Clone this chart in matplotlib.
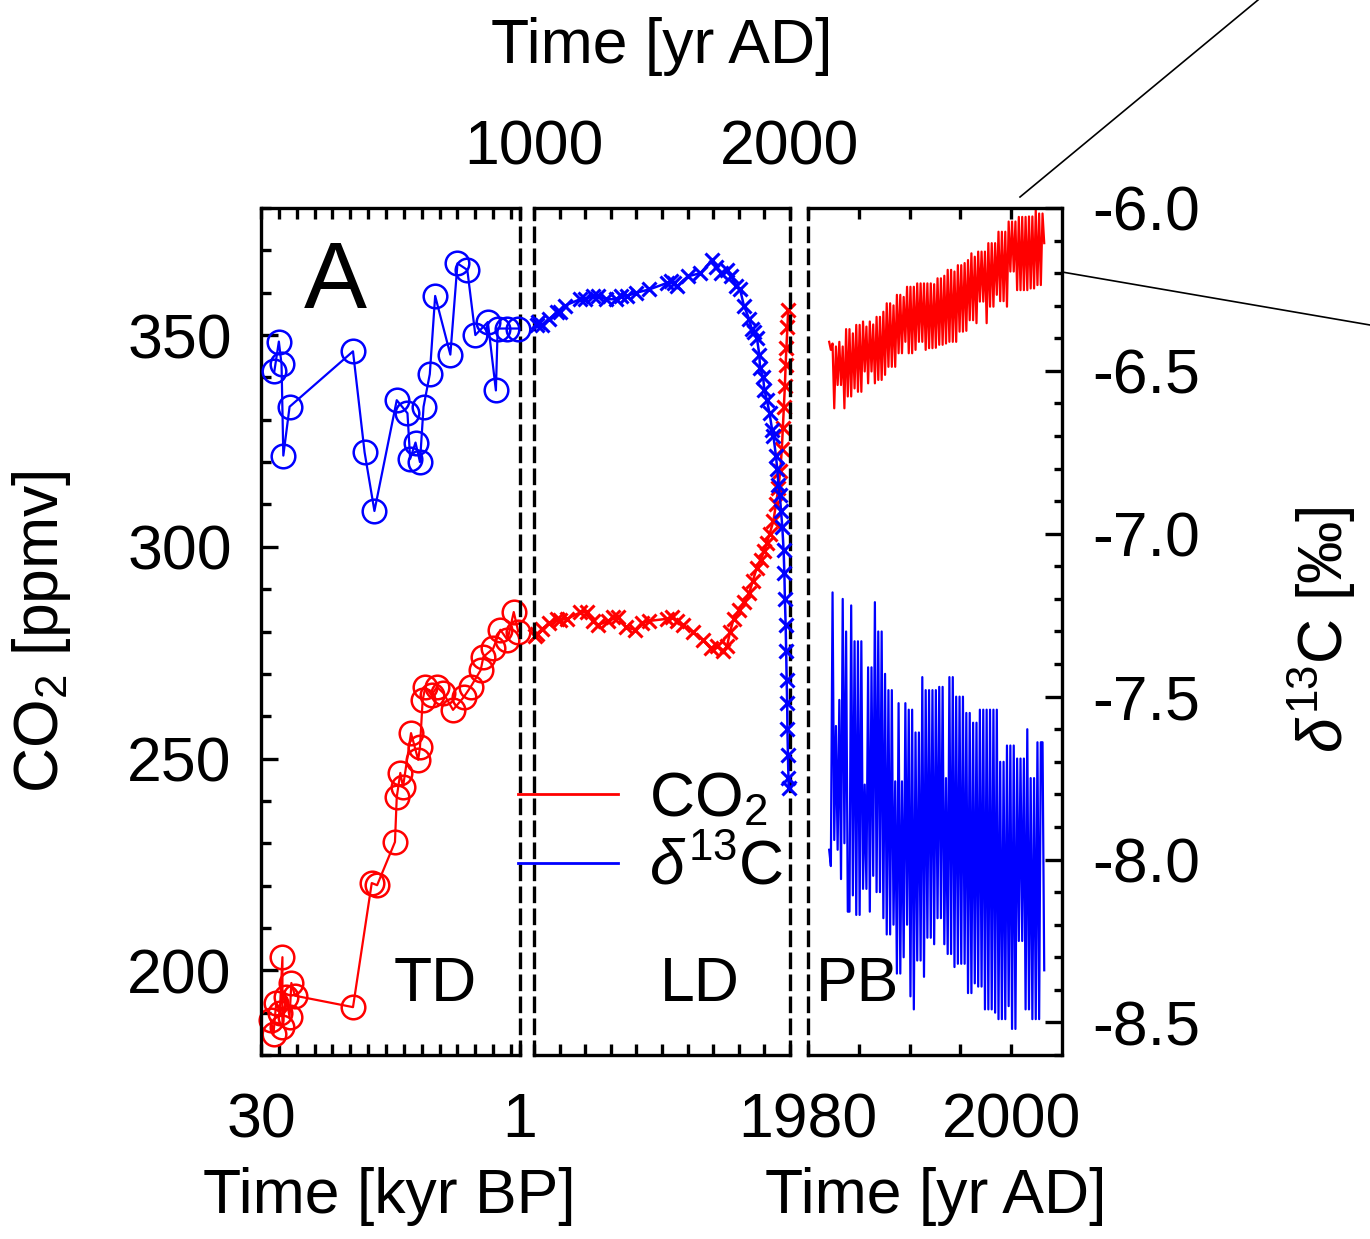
import matplotlib
matplotlib.use('Agg')
import matplotlib.pyplot as plt
from matplotlib.lines import Line2D
from matplotlib.ticker import FixedLocator, MultipleLocator, FormatStrFormatter

plt.rcParams['font.family'] = ['Liberation Sans', 'DejaVu Sans']
plt.rcParams['mathtext.fontset'] = 'custom'
plt.rcParams['mathtext.rm'] = 'Liberation Sans'
plt.rcParams['mathtext.it'] = 'Liberation Sans:italic'
plt.rcParams['axes.unicode_minus'] = False

# --- TD: Taylor Dome, kyr BP ---
td_co2_age = [28.9, 28.6, 28.3, 27.9, 27.6, 27.6, 27.2, 26.8, 26.6, 26.2,
              19.7, 17.6, 17.0, 15.0, 14.8, 14.4, 14.1, 13.2, 12.4, 12.2,
              11.9, 11.6, 10.9, 10.3, 9.6, 8.5, 7.3, 6.5, 5.4, 5.1,
              4.0, 3.2, 2.4, 1.7, 1.2]
td_co2 = [188.3, 185.0, 192.3, 190.0, 203.1, 186.6, 193.7, 189.0, 197.0, 194.0,
          191.3, 220.6, 220.1, 230.3, 240.9, 246.6, 243.3, 256.0, 249.7, 252.7,
          263.8, 266.9, 265.0, 266.9, 265.5, 261.5, 264.5, 267.0, 270.9, 274.0,
          276.0, 280.4, 278.0, 284.6, 280.0]
td_d13c_age = [28.5, 28.0, 27.7, 27.5, 26.8, 19.7, 18.4, 17.3, 14.8, 13.6,
               13.3, 12.7, 12.2, 11.8, 11.1, 10.5, 8.8, 8.0, 6.9, 6.0,
               4.6, 3.7, 3.5, 2.4, 1.2]
td_d13c = [-6.50, -6.41, -6.48, -6.76, -6.61, -6.44, -6.75, -6.93, -6.59, -6.63,
           -6.77, -6.72, -6.78, -6.61, -6.51, -6.27, -6.45, -6.17, -6.19, -6.39,
           -6.35, -6.56, -6.37, -6.37, -6.37]

# --- LD: Law Dome, yr AD ---
ld_co2_year = [1005, 1012, 1030, 1060, 1090, 1102, 1130, 1180, 1207, 1230,
               1250, 1290, 1310, 1328, 1360, 1395, 1420, 1450, 1520, 1539,
               1560, 1582, 1620, 1660, 1690, 1715, 1740, 1754, 1766, 1780,
               1800, 1820, 1840, 1855, 1870, 1885, 1900, 1910, 1920, 1935,
               1945, 1955, 1962, 1968, 1972, 1976, 1980, 1983, 1986, 1990, 1993]
ld_co2 = [279.0, 279.5, 280.5, 282.0, 283.0, 282.7, 283.0, 284.5, 284.6, 282.5,
          281.5, 282.5, 283.5, 283.4, 281.0, 280.4, 282.0, 282.5, 283.0, 283.4,
          282.5, 281.5, 280.0, 278.0, 276.0, 276.5, 275.5, 276.5, 280.0, 283.0,
          285.0, 287.0, 289.0, 292.0, 295.0, 297.0, 299.0, 301.0, 303.0, 306.0,
          310.0, 314.0, 318.0, 323.0, 328.0, 333.0, 338.0, 343.0, 347.0, 352.0, 356.0]
ld_d13c_year = [1010, 1016, 1030, 1060, 1090, 1102, 1120, 1180, 1200, 1230,
                1250, 1280, 1320, 1340, 1363, 1400, 1450, 1520, 1535, 1545,
                1560, 1600, 1650, 1695, 1710, 1730, 1754, 1770, 1790, 1805,
                1820, 1840, 1850, 1860, 1871, 1880, 1883, 1895, 1900, 1910,
                1920, 1930, 1935, 1945, 1950, 1955, 1960, 1965, 1970, 1975,
                1978, 1980, 1983, 1985, 1987, 1989, 1990, 1992, 1994, 1995]
ld_d13c = [-6.36, -6.35, -6.36, -6.34, -6.32, -6.32, -6.30, -6.28, -6.28, -6.27,
           -6.27, -6.28, -6.28, -6.27, -6.27, -6.26, -6.25, -6.23, -6.225, -6.23,
           -6.24, -6.21, -6.20, -6.16, -6.18, -6.20, -6.19, -6.21, -6.24, -6.25,
           -6.30, -6.34, -6.37, -6.38, -6.40, -6.45, -6.49, -6.52, -6.56, -6.59,
           -6.63, -6.68, -6.70, -6.76, -6.80, -6.85, -6.88, -6.93, -6.98, -7.05,
           -7.12, -7.20, -7.28, -7.36, -7.45, -7.52, -7.60, -7.68, -7.75, -7.78]

# --- PB: Point Barrow, yr AD, readings through each year ---
pb_years = list(range(1982, 2004))
pb_co2 = [
    [348.4, 346.5, 348.0, 332.7, 347.3, 338.2],
    [348.4, 338.2, 347.3, 332.7, 351.4, 335.5],
    [351.4, 335.5, 350.4, 337.4, 352.4, 336.6],
    [352.4, 336.6, 353.2, 341.4, 352.0, 338.6],
    [353.2, 341.4, 352.5, 338.6, 354.3, 339.4],
    [354.3, 339.4, 355.5, 340.6, 357.5, 342.5],
    [357.5, 342.5, 357.0, 342.5, 359.5, 345.7],
    [359.5, 345.7, 359.0, 348.4, 361.4, 345.7],
    [361.4, 345.7, 361.4, 346.5, 362.2, 348.4],
    [362.2, 348.4, 362.2, 346.5, 362.2, 346.9],
    [362.2, 346.9, 362.0, 347.0, 363.4, 347.7],
    [363.4, 347.7, 364.0, 348.0, 365.4, 348.4],
    [365.4, 348.4, 365.0, 348.4, 366.5, 350.8],
    [366.5, 350.8, 367.0, 351.0, 367.7, 353.5],
    [369.3, 353.5, 368.5, 352.8, 369.7, 357.9],
    [369.7, 357.9, 369.7, 352.8, 371.7, 356.7],
    [371.7, 356.7, 371.7, 359.5, 374.4, 358.0],
    [374.4, 358.0, 374.4, 356.7, 376.8, 365.0],
    [376.8, 365.0, 376.8, 360.6, 377.9, 360.6],
    [377.9, 360.6, 377.9, 360.6, 378.0, 361.0],
    [378.0, 361.0, 379.5, 361.8, 378.7, 361.8],
    [378.7, 371.7],
]
pb_d13c = [
    [-7.97, -8.02, -7.18, -7.94, -7.59, -7.97],
    [-7.51, -8.06, -7.20, -7.95, -7.30, -8.16],
    [-8.16, -7.22, -8.11, -7.33, -8.17, -7.33],
    [-8.17, -7.33, -8.09, -7.77, -8.09, -7.41],
    [-8.16, -7.41, -8.05, -7.21, -8.10, -7.30],
    [-8.10, -7.30, -8.18, -7.43, -8.23, -7.48],
    [-8.23, -7.48, -8.20, -7.76, -8.35, -7.52],
    [-8.35, -7.76, -8.30, -7.52, -8.20, -7.54],
    [-8.42, -7.54, -8.46, -7.61, -8.31, -7.61],
    [-8.31, -7.44, -8.36, -7.48, -8.24, -7.48],
    [-8.24, -7.48, -8.26, -7.48, -8.18, -7.47],
    [-8.18, -7.47, -8.26, -7.75, -8.29, -7.44],
    [-8.29, -7.44, -8.33, -7.50, -8.32, -7.50],
    [-8.32, -7.50, -8.32, -7.55, -8.41, -7.55],
    [-8.41, -7.58, -8.38, -7.58, -8.39, -7.54],
    [-8.39, -7.54, -8.46, -7.54, -8.46, -7.54],
    [-8.46, -7.54, -8.47, -7.54, -8.49, -7.70],
    [-8.49, -7.70, -8.49, -7.65, -8.45, -7.65],
    [-8.52, -7.65, -8.52, -7.69, -8.25, -7.69],
    [-8.25, -7.69, -8.46, -7.60, -8.46, -7.75],
    [-8.49, -7.75, -8.49, -7.64, -8.49, -7.64],
    [-7.64, -8.34],
]


def flatten(years, rows):
    t, v = [], []
    for yr, row in zip(years, rows):
        for k, val in enumerate(row):
            t.append(yr + (k + 0.5) / 6.0)
            v.append(val)
    return t, v


W, H = 1370, 1239
FS = 45
LW = 2.4

fig = plt.figure(figsize=(W / 100, H / 100), dpi=100)


def box(x0, x1, y0=208, y1=1055):
    return [x0 / W, 1 - y1 / H, (x1 - x0) / W, (y1 - y0) / H]


ax_td = fig.add_axes(box(261, 520))
ax_ld = fig.add_axes(box(534, 790))
ax_pb = fig.add_axes(box(808, 1062))
axes = [ax_td, ax_ld, ax_pb]
twins = []
for ax in axes:
    ax.set_ylim(180, 380)
    tw = ax.twinx()
    tw.set_ylim(-8.6, -6.0)
    for s in tw.spines.values():
        s.set_visible(False)
    for s in ax.spines.values():
        s.set_linewidth(LW)
    ax.tick_params(which='both', direction='in', width=LW, labelsize=FS)
    tw.tick_params(which='both', direction='in', width=LW, labelsize=FS)
    tw.tick_params(axis='y', which='both', right=False, labelright=False)
    ax.tick_params(axis='y', which='both', left=False, labelleft=False)
    twins.append(tw)
tw_td, tw_ld, tw_pb = twins

# dashed panel joins
dash = (0, (4.0, 2.6))
ax_td.spines['right'].set_linestyle(dash)
ax_ld.spines['left'].set_linestyle(dash)
ax_ld.spines['right'].set_linestyle(dash)
ax_pb.spines['left'].set_linestyle(dash)

# TD panel
ax_td.set_xlim(30, 1)
ax_td.xaxis.set_major_locator(FixedLocator([30, 1]))
ax_td.xaxis.set_minor_locator(FixedLocator(list(range(2, 30, 2))))
ax_td.set_xticklabels(['30', '1'])
ax_td.tick_params(axis='x', which='both', top=True, bottom=True, length=8, pad=26)
ax_td.yaxis.set_major_locator(MultipleLocator(50))
ax_td.yaxis.set_minor_locator(MultipleLocator(10))
ax_td.tick_params(axis='y', which='both', left=True, labelleft=True, pad=21)
ax_td.tick_params(axis='y', which='major', length=12)
ax_td.tick_params(axis='y', which='minor', length=7)

# LD panel
ax_ld.set_xlim(1000, 2000)
ax_ld.xaxis.set_major_locator(FixedLocator([1000, 2000]))
ax_ld.xaxis.set_minor_locator(MultipleLocator(100))
ax_ld.set_xticklabels(['1000', '2000'])
ax_ld.tick_params(axis='x', which='both', top=True, bottom=True, length=8,
                  labeltop=True, labelbottom=False, pad=22)

# PB panel
ax_pb.set_xlim(1980, 2005)
ax_pb.xaxis.set_major_locator(FixedLocator([1980, 2000]))
ax_pb.xaxis.set_minor_locator(FixedLocator([1985, 1990, 1995]))
ax_pb.set_xticklabels(['1980', '2000'])
ax_pb.tick_params(axis='x', which='both', top=True, bottom=True, length=8, pad=26)
tw_pb.yaxis.set_major_locator(MultipleLocator(0.5))
tw_pb.yaxis.set_minor_locator(MultipleLocator(0.1))
tw_pb.yaxis.set_major_formatter(FormatStrFormatter('%.1f'))
tw_pb.tick_params(axis='y', which='both', right=True, labelright=True, pad=22)
tw_pb.tick_params(axis='y', which='major', length=12)
tw_pb.tick_params(axis='y', which='minor', length=6)

# data
circ = dict(marker='o', mfc='none', ms=17, mew=1.8, lw=1.6, clip_on=False)
cross = dict(marker='x', ms=10, mew=2.2, lw=1.8, clip_on=False)
ax_td.plot(td_co2_age, td_co2, color='red', **circ)
tw_td.plot(td_d13c_age, td_d13c, color='blue', **circ)
ax_ld.plot(ld_co2_year, ld_co2, color='red', **cross)
tw_ld.plot(ld_d13c_year, ld_d13c, color='blue', **cross)
t, v = flatten(pb_years, pb_co2)
ax_pb.plot(t, v, color='red', lw=1.6)
t, v = flatten(pb_years, pb_d13c)
tw_pb.plot(t, v, color='blue', lw=1.6)

# panel annotations
ax_td.text(0.286, 0.911, 'A', transform=ax_td.transAxes, fontsize=68,
           ha='center', va='center')
ax_td.text(0.672, 0.083, 'TD', transform=ax_td.transAxes, fontsize=FS,
           ha='center', va='center')
ax_ld.text(0.648, 0.083, 'LD', transform=ax_ld.transAxes, fontsize=FS,
           ha='center', va='center')
ax_pb.text(0.193, 0.083, 'PB', transform=ax_pb.transAxes, fontsize=FS,
           ha='center', va='center')

# axis titles
fig.text(662 / W, 1 - 47 / H, 'Time [yr AD]', fontsize=FS, ha='center', va='center')
fig.text(389 / W, 1 - 1197 / H, 'Time [kyr BP]', fontsize=FS, ha='center', va='center')
fig.text(936 / W, 1 - 1197 / H, 'Time [yr AD]', fontsize=FS, ha='center', va='center')
fig.text(42 / W, 1 - 632 / H, 'CO$_2$ [ppmv]', fontsize=FS, rotation=90,
         ha='center', va='center')
fig.text(1322 / W, 1 - 630 / H, r'$\delta^{13}$C [‰]', fontsize=FS, rotation=90,
         ha='center', va='center')

# legend
handles = [Line2D([], [], color='red', lw=2), Line2D([], [], color='blue', lw=2)]
fig.legend(handles, ['CO$_2$', r'$\delta^{13}$C'], loc='upper left',
           bbox_to_anchor=(518 / W, 1 - 770 / H), frameon=False, fontsize=FS,
           handlelength=1.6, handletextpad=0.5, labelspacing=0.15,
           borderpad=0, borderaxespad=0)

# zoom connector lines to the next panel
fig.add_artist(Line2D([1020 / W, 1258 / W], [1 - 197 / H, 1.0], color='black',
                      lw=1.2, transform=fig.transFigure))
fig.add_artist(Line2D([1062 / W, 1.0], [1 - 272 / H, 1 - 325 / H], color='black',
                      lw=1.2, transform=fig.transFigure))

fig.savefig('out.png', dpi=100)
